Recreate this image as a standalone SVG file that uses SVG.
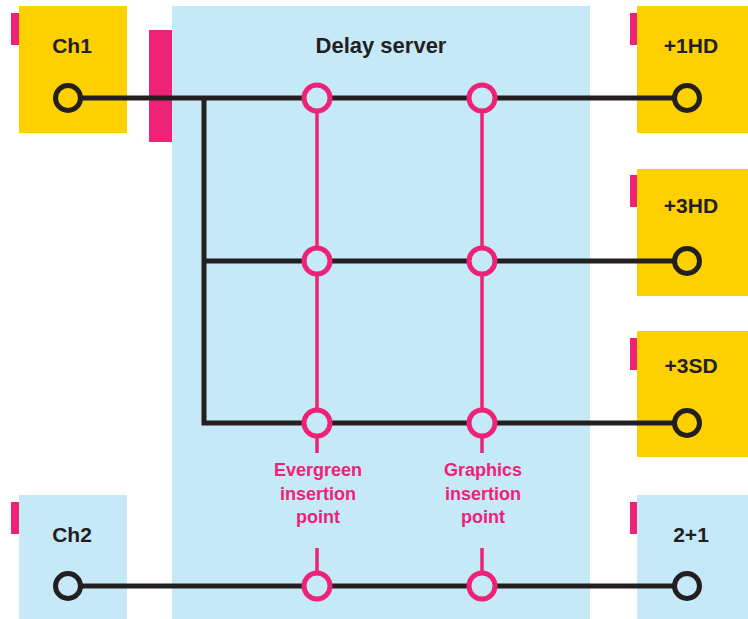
<svg xmlns="http://www.w3.org/2000/svg" width="748" height="619" viewBox="0 0 748 619">
<style>
.yel{fill:#fdd000}
.blu{fill:#c6e9f8}
.tab{fill:#ee2277}
.lbl{font-family:"Liberation Sans",Arial,sans-serif;font-weight:bold;font-size:21px;fill:#231f20;text-anchor:middle}
.pl{font-family:"Liberation Sans",Arial,sans-serif;font-weight:bold;font-size:18px;fill:#ee2277;text-anchor:middle}
.blk{stroke:#231f20;stroke-width:5;fill:none;stroke-linejoin:miter}
.pk{stroke:#ee2277;stroke-width:3.5;fill:none}
.cb{stroke:#231f20;stroke-width:5}
.cp{stroke:#ee2277;stroke-width:5;fill:#c6e9f8}
</style>
<rect width="748" height="619" fill="#ffffff"/>
<g id="delay-server">
<rect class="blu" x="172" y="6" width="418" height="613"/>
<rect class="tab" x="149" y="30" width="23" height="112"/>
<text class="lbl" x="381" y="53" style="font-size:22px">Delay server</text>
</g>
<g id="ch1">
<rect class="yel" x="19" y="6" width="108" height="127"/>
<rect class="tab" x="11" y="13" width="8" height="32"/>
<text class="lbl" x="72" y="53">Ch1</text>
</g>
<g id="ch2">
<rect class="blu" x="19" y="495" width="108" height="124"/>
<rect class="tab" x="11" y="502" width="8" height="32"/>
<text class="lbl" x="72" y="542">Ch2</text>
</g>
<g id="out-1hd">
<rect class="yel" x="637" y="6" width="111" height="127"/>
<rect class="tab" x="630" y="13" width="7" height="32"/>
<text class="lbl" x="691" y="53">+1HD</text>
</g>
<g id="out-3hd">
<rect class="yel" x="637" y="169" width="111" height="127"/>
<rect class="tab" x="630" y="175" width="7" height="32"/>
<text class="lbl" x="691" y="213">+3HD</text>
</g>
<g id="out-3sd">
<rect class="yel" x="637" y="331" width="111" height="126"/>
<rect class="tab" x="630" y="338" width="7" height="32"/>
<text class="lbl" x="691" y="373">+3SD</text>
</g>
<g id="out-21">
<rect class="blu" x="637" y="495" width="111" height="124"/>
<rect class="tab" x="630" y="502" width="7" height="32"/>
<text class="lbl" x="691" y="542">2+1</text>
</g>
<g id="connectors">
<path class="blk" d="M68 98H687M204 96V423H687M204 261H687M68 586H687"/>
<path class="pk" d="M317 98V453M482 98V453M317 548V586M482 548V586"/>
</g>
<g id="ports">
<circle class="cb" cx="68" cy="98" r="12.5" fill="#fdd000"/>
<circle class="cb" cx="687" cy="98" r="12.5" fill="#fdd000"/>
<circle class="cb" cx="687" cy="261" r="12.5" fill="#fdd000"/>
<circle class="cb" cx="687" cy="423" r="12.5" fill="#fdd000"/>
<circle class="cb" cx="68" cy="586" r="12.5" fill="#c6e9f8"/>
<circle class="cb" cx="687" cy="586" r="12.5" fill="#c6e9f8"/>
</g>
<g id="insertion-points">
<circle class="cp" cx="317" cy="98" r="13"/>
<circle class="cp" cx="482" cy="98" r="13"/>
<circle class="cp" cx="317" cy="261" r="13"/>
<circle class="cp" cx="482" cy="261" r="13"/>
<circle class="cp" cx="317" cy="423" r="13"/>
<circle class="cp" cx="482" cy="423" r="13"/>
<circle class="cp" cx="317" cy="586" r="13"/>
<circle class="cp" cx="482" cy="586" r="13"/>
<text class="pl" x="318" y="476">Evergreen</text>
<text class="pl" x="318" y="500">insertion</text>
<text class="pl" x="318" y="523">point</text>
<text class="pl" x="483" y="476">Graphics</text>
<text class="pl" x="483" y="500">insertion</text>
<text class="pl" x="483" y="523">point</text>
</g>
</svg>
